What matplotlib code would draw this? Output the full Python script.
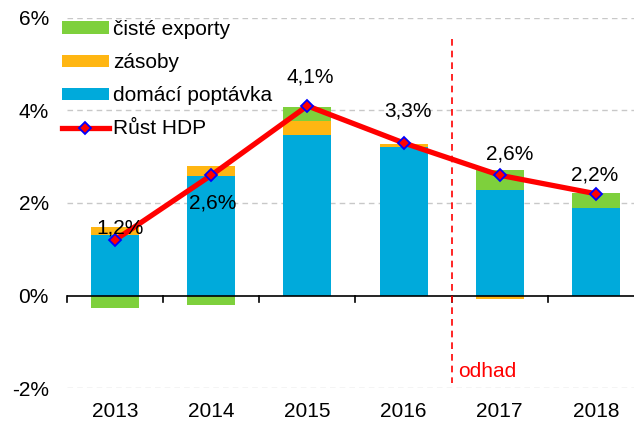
import matplotlib
matplotlib.use("Agg")
import matplotlib.pyplot as plt
import numpy as np

plt.rcParams['font.family'] = ['Liberation Sans', 'DejaVu Sans']

years = ["2013", "2014", "2015", "2016", "2017", "2018"]
domestic = [1.30, 2.59, 3.48, 3.22, 2.29, 1.90]
inventories = [0.19, 0.20, 0.30, 0.06, -0.07, 0.00]
net_exports = [-0.28, -0.20, 0.30, 0.00, 0.43, 0.32]
gdp = [1.2, 2.6, 4.1, 3.3, 2.6, 2.2]
gdp_labels = ["1,2%", "2,6%", "4,1%", "3,3%", "2,6%", "2,2%"]
# label offsets in pixels (dx, dy of baseline from marker)
label_dx = [5, 1, 3, 4, 10, -1]
label_dy = [7, -33, 23, 26, 16, 13]

c_blue = "#00AADB"
c_orange = "#FFB612"
c_green = "#7ED03C"
FS = 15

fig = plt.figure(figsize=(6.34, 4.23), dpi=100)
ax = fig.add_axes([67/634, 1-388/423, (644-67)/634, (388-18)/423])

x = np.arange(len(years))
w = 0.5
series = [(domestic, c_blue, "domácí poptávka"),
          (inventories, c_orange, "zásoby"),
          (net_exports, c_green, "čisté exporty")]
pos_base = np.zeros(len(years))
neg_base = np.zeros(len(years))
handles = {}
for vals, col, lab in series:
    vals = np.array(vals)
    bottoms = np.where(vals >= 0, pos_base, neg_base)
    b = ax.bar(x, vals, w, bottom=bottoms, color=col, label=lab, zorder=2)
    handles[lab] = b
    pos_base += np.where(vals >= 0, vals, 0)
    neg_base += np.where(vals < 0, vals, 0)

ln, = ax.plot(x, gdp, color="#FF0000", lw=3.8, marker="D", markersize=6,
              markerfacecolor="#FF0000", markeredgecolor="#0000FF", markeredgewidth=1.3,
              zorder=4, label="Růst HDP")

for xi, v, t, dx, dy in zip(x, gdp, gdp_labels, label_dx, label_dy):
    ax.annotate(t, (xi, v), xytext=(dx, dy), textcoords="offset pixels",
                ha="center", va="baseline", fontsize=FS, zorder=5)

ax.set_ylim(-2, 6)
ax.set_xlim(-0.5, 5.5)
ax.set_yticks([-2, 0, 2, 4, 6])
ax.set_yticklabels(["-2%", "0%", "2%", "4%", "6%"], fontsize=FS)
for g in [-2, 2, 4, 6]:
    ax.axhline(g, color="#C8C8C8", lw=1, ls=(0, (4, 3)), zorder=1)
ax.axhline(0, color="black", lw=1.2, zorder=3)
for b in np.arange(-0.5, 5.6, 1.0):
    ax.plot([b, b], [0, -0.13], color="black", lw=1.2, zorder=3, clip_on=False)

ax.set_xticks(x)
ax.set_xticklabels(years, fontsize=FS)
ax.tick_params(axis="x", length=0, pad=10)
ax.tick_params(axis="y", length=0, pad=13)
for s in ax.spines.values():
    s.set_visible(False)

ax.plot([3.5, 3.5], [5.55, -1.9], color="#FF0000", lw=1.2, ls=(0, (4, 3)), zorder=3)
ax.annotate("odhad", (3.5, -2), xytext=(6, 11), textcoords="offset pixels",
            color="#FF0000", fontsize=FS, ha="left", va="baseline")

leg = ax.legend([handles["čisté exporty"], handles["zásoby"], handles["domácí poptávka"], ln],
                ["čisté exporty", "zásoby", "domácí poptávka", "Růst HDP"],
                loc="upper left", bbox_to_anchor=(-5/577, 1 - 2/370), frameon=False,
                fontsize=FS, handlelength=2.25, handleheight=0.55, labelspacing=0.68,
                handletextpad=0.2, borderaxespad=0, borderpad=0)
leg.set_zorder(6)

fig.savefig("out.png", dpi=100)
